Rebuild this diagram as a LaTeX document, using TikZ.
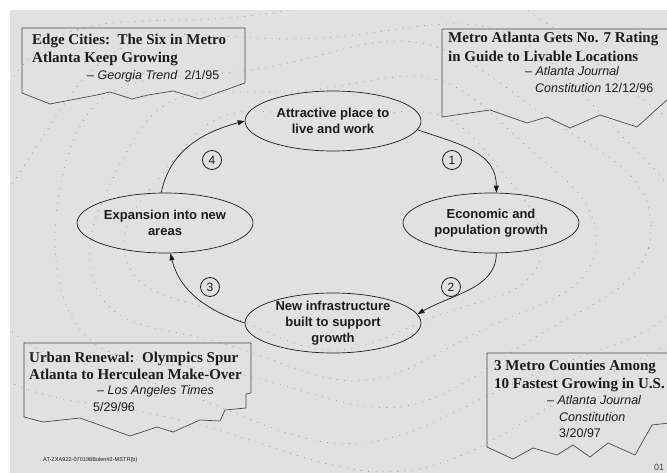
\documentclass[tikz,border=0pt]{standalone}
\usepackage{fontspec}
\setmainfont{Liberation Serif}
\setsansfont{Liberation Sans}
\usetikzlibrary{arrows.meta,shapes.geometric}
\definecolor{bg}{HTML}{E1E1E1}
\definecolor{ink}{HTML}{1C1C1C}
\definecolor{boxline}{HTML}{4A4A4A}
\definecolor{dotc}{HTML}{9C9C9C}
\begin{document}
\begin{tikzpicture}[x=1pt,y=-1pt,
  callout/.style={draw=boxline, line width=0.7pt, line join=round},
  headline/.style={anchor=base west, inner sep=0pt, font=\fontsize{15}{18}\selectfont\bfseries, text=ink},
  source/.style={anchor=base west, inner sep=0pt, font=\fontsize{12.5}{15}\selectfont\sffamily, text=ink},
  stage/.style={ellipse, draw=ink, line width=0.7pt, minimum width=176pt, minimum height=60pt, inner sep=0pt},
  stagetext/.style={align=center, inner sep=0pt, font=\fontsize{13}{16}\selectfont\sffamily\bfseries, text=ink},
  flow/.style={draw=ink, line width=0.7pt, -{Triangle[length=7pt,width=5pt]}},
  numcirc/.style={circle, draw=ink, line width=0.8pt, minimum size=19pt, inner sep=0pt, font=\fontsize{12}{14}\selectfont\sffamily, text=ink},
  dots/.style={draw=dotc, line width=0.8pt, dash pattern=on 0.8pt off 6.5pt},
]
\useasboundingbox (0,0) rectangle (667,473);
\fill[white] (0,0) rectangle (667,473);
\fill[bg] (10,10) rectangle (667,473);

% dotted contour lines
\begin{scope}
\clip (10,10) rectangle (667,473);
\foreach \rx/\ry/\ph in {205/117/0, 250/146/40, 298/174/80, 348/203/20, 400/232/60} {
  \draw[dots] plot[domain=0:360, samples=48, smooth cycle]
    ({333+\rx*cos(\x)*(1+0.07*sin(3*\x+\ph))}, {223+\ry*sin(\x)*(1+0.09*sin(5*\x+\ph))});
}
\end{scope}

% callout outlines
\draw[callout] (245,83) -- (245,28) -- (22,28) -- (22,93) -- (50,104) -- (97,95) -- (110,92)
  -- (132,99) -- (148,95) -- (173,91) -- (200,99) -- cycle;
\draw[callout] (669,29) -- (442,29) -- (442,117) -- (490,110) -- (527,123) -- (547,117)
  -- (570,128) -- (600,115) -- (637,127) -- (669,98);
\draw[callout] (251,343) -- (24,343) -- (24,417) -- (43,422) -- (80,418) -- (130,436)
  -- (157,427) -- (173,432) -- (200,420) -- (220,421) -- (225,410) -- (246,408)
  -- (246,394) -- (251,393) -- cycle;
\draw[callout] (669,353) -- (487,353) -- (487,447) -- (513,459) -- (533,448) -- (557,455)
  -- (573,445) -- (590,457) -- (608,443) -- (635,455) -- (652,425) -- (669,423);

% callout texts
\node[headline] (tl1) at (32,45) {Edge Cities:\ \ The Six in Metro};
\node[headline] (tl2) at (32,63) {Atlanta Keep Growing};
\node[source]   (tl3) at (87,80) {– \textit{Georgia Trend}\ \ 2/1/95};

\node[headline] (tr1) at (448,43) {Metro Atlanta Gets No. 7 Rating};
\node[headline] (tr2) at (448,62) {in Guide to Livable Locations};
\node[source]   (tr3) at (525,76) {– \textit{Atlanta Journal}};
\node[source]   (tr4) at (535,93) {\textit{Constitution} 12/12/96};

\node[headline] (bl1) at (29,362) {Urban Renewal:\ \ Olympics Spur};
\node[headline] (bl2) at (29,379) {Atlanta to Herculean Make-Over};
\node[source]   (bl3) at (97,394) {– \textit{Los Angeles Times}};
\node[source]   (bl4) at (93,411) {5/29/96};

\node[headline] (br1) at (494,370) {3 Metro Counties Among};
\node[headline] (br2) at (494,388) {10 Fastest Growing in U.S.};
\node[source]   (br3) at (547,404) {– \textit{Atlanta Journal}};
\node[source]   (br4) at (559,421) {\textit{Constitution}};
\node[source]   (br5) at (559,437) {3/20/97};

\node[anchor=base west, inner sep=0pt, font=\fontsize{5.6}{7}\selectfont\sffamily, text=ink] (code) at (43,461) {AT-ZXA922-070198Bolen\#2-MSTR(b)};
\node[anchor=base west, inner sep=0pt, font=\fontsize{9}{10}\selectfont\sffamily, text=ink!80] (pg) at (654,470) {01};

% cycle stages
\node[stage] (attr)   at (333,121) {};
\node[stage] (econ)   at (491,223) {};
\node[stage] (infra)  at (333,323) {};
\node[stage] (expand) at (165,223) {};
\node[stagetext] (attrT)   at (attr)   {Attractive place to\\live and work};
\node[stagetext] (econT)   at (econ)   {Economic and\\population growth};
\node[stagetext] (infraT)  at (infra)  {New infrastructure\\built to support\\growth};
\node[stagetext] (expandT) at (expand) {Expansion into new\\areas};

% connectors
\draw[flow] (attr.-6) .. controls +(45,15) and +(0,-40) .. (econ.80);
\draw[flow] (econ.-80) .. controls +(0,35) and +(35,-20) .. (infra.6);
\draw[flow] (infra.180) .. controls +(-35,-12) and +(10,40) .. (expand.-80);
\draw[flow] (expand.97) .. controls +(8,-40) and +(-45,12) .. (attr.west);

% step numbers
\node[numcirc] (n1) at (452,160) {1};
\node[numcirc] (n2) at (451,287) {2};
\node[numcirc] (n3) at (210,287) {3};
\node[numcirc] (n4) at (212,160) {4};
\end{tikzpicture}
\end{document}
